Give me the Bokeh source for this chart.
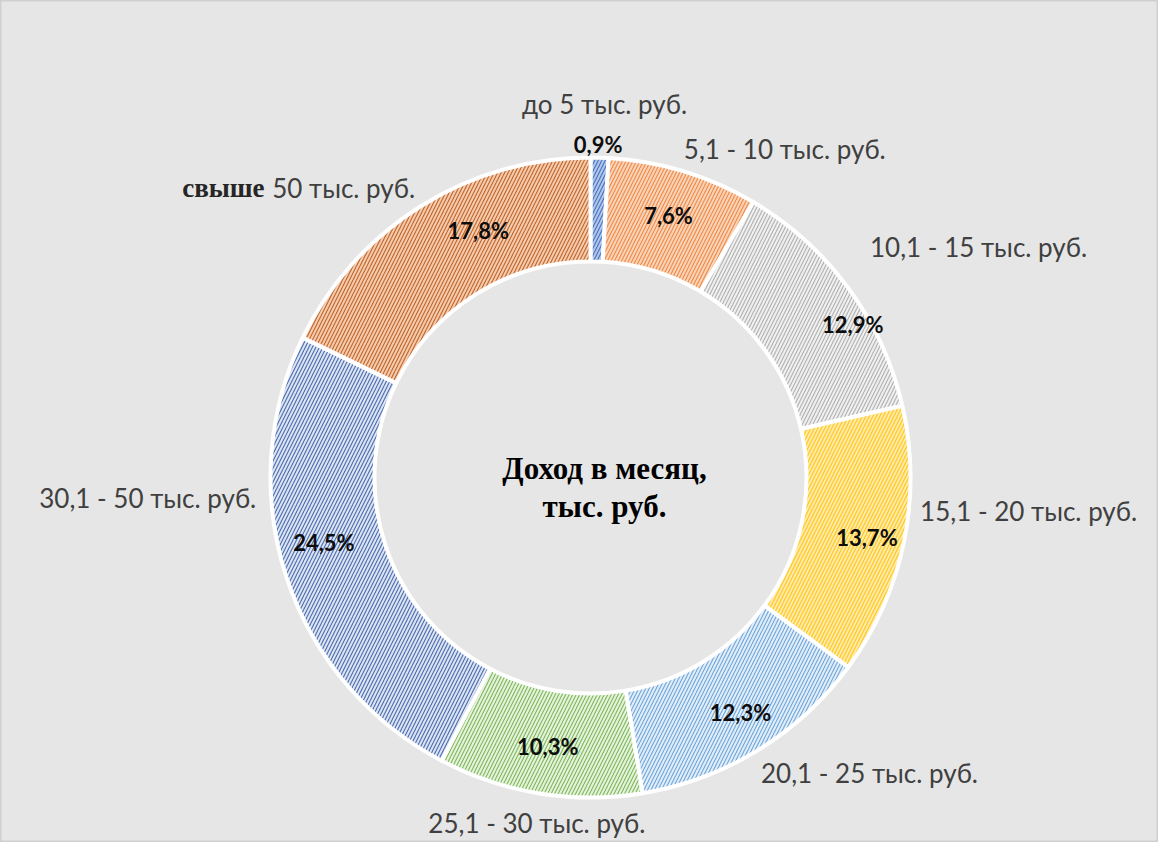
import math
import numpy as np
from bokeh.plotting import figure
from bokeh.models import ColumnDataSource, Range1d
from bokeh.core.properties import value
from bokeh.embed import file_html
from bokeh.resources import INLINE

# ---------------- data ----------------
categories = [
    "до 5 тыс. руб.",
    "5,1 - 10 тыс. руб.",
    "10,1 - 15 тыс. руб.",
    "15,1 - 20 тыс. руб.",
    "20,1 - 25 тыс. руб.",
    "25,1 - 30 тыс. руб.",
    "30,1 - 50 тыс. руб.",
    "свыше 50 тыс. руб.",
]
shares = [0.9, 7.6, 12.9, 13.7, 12.3, 10.3, 24.5, 17.8]
center_title = "Доход в месяц,\nтыс. руб."

# ---------------- styles / layout ----------------
fill_colors = ["#b4c7e7", "#fad3b8", "#f0f0f0", "#ffeaa8", "#e2edf8", "#e6f2dd", "#dce4f3", "#f6cbae"]
hatch_colors = ["#4472c4", "#ee8a48", "#b0b0b0", "#ffc61a", "#6ea6da", "#7db85a", "#4a6cae", "#c0652a"]

W, H = 1158, 842
CX, CY = 590, 477          # donut centre in figure pixels (from top-left)
R_OUT, R_IN = 320, 216
R_LAB = 355
R_PCT = (R_OUT + R_IN) / 2

cat_align = ["center", "left", "left", "left", "left", "center", "right", "left"]
cat_nudge = [(4, 19), (-10, -11), (-7, 21), (-18, 38), (-15, 7), (3, 5), (3, 90), (-220, -11)]
pct_nudge = [(0, 65), (0, 6), (46, -5), (14, -6), (10, -6), (0, -4), (-12, 19), (30, 20)]

# ---------------- geometry from data ----------------
vals = np.array(shares, dtype=float)
total = vals.sum()
cum_end = np.cumsum(vals) / total
cum_start = cum_end - vals / total
start_ang = np.pi / 2 - 2 * np.pi * cum_start
end_ang = np.pi / 2 - 2 * np.pi * cum_end
mid_ang = (start_ang + end_ang) / 2

pct_text = [f"{v:.1f}".replace(".", ",") + "%" for v in shares]

p = figure(
    width=W, height=H,
    x_range=Range1d(-CX, W - CX), y_range=Range1d(-(H - CY), CY),
    output_backend="svg", toolbar_location=None,
    min_border=0,
)
p.axis.visible = False
p.grid.visible = False
p.background_fill_color = "#e6e6e6"
p.border_fill_color = "#e6e6e6"
p.outline_line_color = "#cfcfcf"
p.outline_line_width = 2

src = ColumnDataSource(dict(
    start=start_ang, end=end_ang, fill=fill_colors, hatch=hatch_colors,
))
p.annular_wedge(
    x=0, y=0, inner_radius=R_IN, outer_radius=R_OUT,
    start_angle="start", end_angle="end", direction="clock",
    fill_color="fill", hatch_color="hatch", hatch_pattern="/",
    hatch_scale=7, hatch_weight=1.1,
    line_color="white", line_width=4, source=src,
)

# percentage labels
px = R_PCT * np.cos(mid_ang) + np.array([n[0] for n in pct_nudge])
py = R_PCT * np.sin(mid_ang) + np.array([n[1] for n in pct_nudge])
p.text(x=px, y=py, text=pct_text, text_align="center", text_baseline="middle",
       text_font=value("Lato"), text_font_style="bold", text_font_size="22px",
       text_color="#0d0d0d")

# category labels
lx = R_LAB * np.cos(mid_ang) + np.array([n[0] for n in cat_nudge])
ly = R_LAB * np.sin(mid_ang) + np.array([n[1] for n in cat_nudge])
for i, cat in enumerate(categories):
    if cat.startswith("свыше"):
        first, rest = cat.split(" ", 1)
        p.text(x=[lx[i]], y=[ly[i]], text=[first], text_align="left", text_baseline="middle",
               text_font=value("Liberation Serif"), text_font_style="bold",
               text_font_size="27px", text_color="#262626")
        p.text(x=[lx[i] + 90], y=[ly[i]], text=[rest], text_align="left", text_baseline="middle",
               text_font=value("Lato"), text_font_size="26px", text_color="#404040")
    else:
        p.text(x=[lx[i]], y=[ly[i]], text=[cat], text_align=cat_align[i], text_baseline="middle",
               text_font=value("Lato"), text_font_size="26px", text_color="#404040")

# centre title
p.text(x=[14], y=[-10], text=[center_title], text_align="center", text_baseline="middle",
       text_font=value("Liberation Serif"), text_font_style="bold", text_font_size="31px",
       text_color="#000000", text_line_height=1.08)

open("out.html", "w").write(file_html(p, INLINE))
